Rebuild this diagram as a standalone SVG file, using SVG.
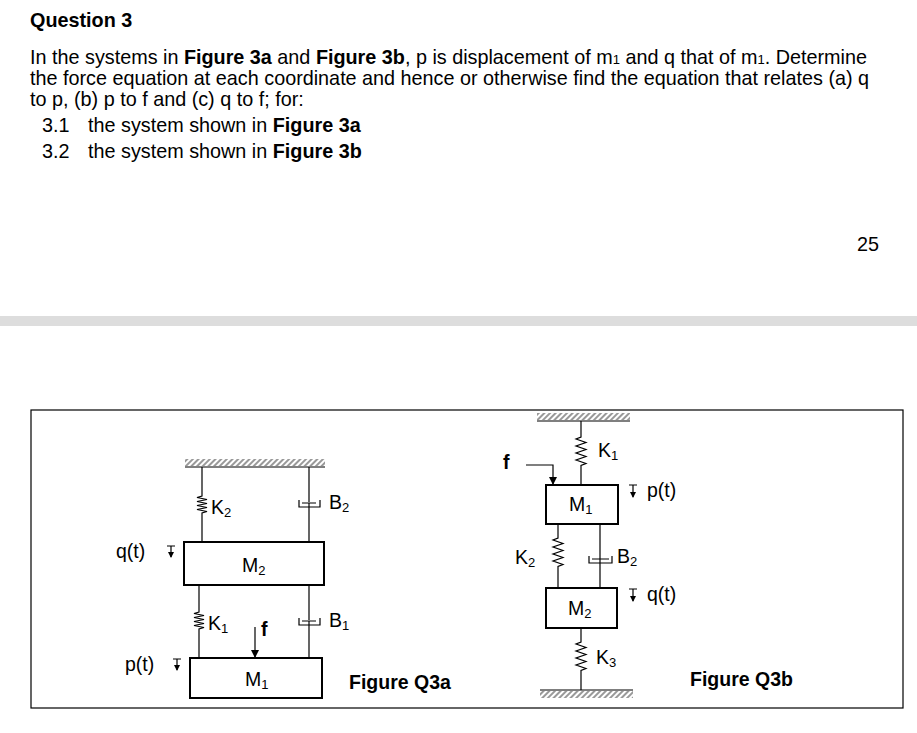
<svg xmlns="http://www.w3.org/2000/svg" width="917" height="733" viewBox="0 0 917 733">
<defs>
<pattern id="h" width="4" height="4" patternUnits="userSpaceOnUse" patternTransform="rotate(45)"><rect width="2" height="4" fill="#999"/></pattern>
<marker id="a" markerWidth="8" markerHeight="8" refX="7" refY="4" orient="auto" markerUnits="userSpaceOnUse"><path d="M0,0 L8,4 L0,8 z" fill="#000"/></marker>
<marker id="s" markerWidth="6" markerHeight="6" refX="5" refY="3" orient="auto" markerUnits="userSpaceOnUse"><path d="M0,0 L6,3 L0,6 z" fill="#000"/></marker>
</defs>
<style>
text{font-family:"Liberation Sans",Arial,sans-serif;fill:#000}
.t{font-size:19.8px}
.l{font-size:19.5px}
.b{font-weight:bold}
.s{font-size:13px}
.ln{stroke:#000;stroke-width:1.2;fill:none}
.box{fill:#fff;stroke:#000;stroke-width:2}
.sp{stroke:#000;stroke-width:1.2;fill:none}
</style>
<rect width="917" height="733" fill="#fff"/>
<text x="30" y="27" class="t b">Question 3</text>
<text x="30" y="64" class="t">In the systems in <tspan class="b">Figure 3a</tspan> and <tspan class="b">Figure 3b</tspan>, p is displacement of m<tspan class="s">1</tspan> and q that of m<tspan class="s">1</tspan>. Determine</text>
<text x="30" y="85" class="t">the force equation at each coordinate and hence or otherwise find the equation that relates (a) q</text>
<text x="30" y="106" class="t">to p, (b) p to f and (c) q to f; for:</text>
<text x="42" y="132" class="t">3.1</text><text x="88" y="132" class="t">the system shown in <tspan class="b">Figure 3a</tspan></text>
<text x="42" y="158" class="t">3.2</text><text x="88" y="158" class="t">the system shown in <tspan class="b">Figure 3b</tspan></text>
<text x="857" y="251" class="t">25</text>
<rect x="0" y="316" width="917" height="10" fill="#ddd"/>
<rect x="31" y="410" width="872" height="298" fill="none" stroke="#000" stroke-width="1.2"/>

<g id="fig3a">
<rect x="185" y="459" width="140" height="7" fill="url(#h)"/>
<line x1="185" y1="467" x2="325" y2="467" class="ln" stroke-width="2"/>
<g id="K2a"><path class="sp" d="M202,467 V496 l-5,1.5 l10,2 l-10,2 l10,2 l-10,2 l10,2 l-10,2 l10,2 l-5,1.5 V542"/><text x="211" y="514" class="l">K<tspan class="s" dy="3">2</tspan></text></g>
<g id="B2a"><path class="ln" d="M309,467 V502 M299,500 V507 H320 V500 M302,503 H316 M309,503 V542"/><text x="329" y="509" class="l">B<tspan class="s" dy="3">2</tspan></text></g>
<g id="M2a"><rect class="box" x="184" y="542" width="140" height="43"/><text x="242" y="572" class="l">M<tspan class="s" dy="3">2</tspan></text></g>
<g id="K1a"><path class="sp" d="M199,585 V612 l-5,1.5 l10,2 l-10,2 l10,2 l-10,2 l10,2 l-10,2 l10,2 l-5,1.5 V658"/><text x="208" y="630" class="l">K<tspan class="s" dy="3">1</tspan></text></g>
<g id="B1a"><path class="ln" d="M309,585 V620 M299,618 V625 H320 V618 M302,621 H316 M309,621 V658"/><text x="329" y="627" class="l">B<tspan class="s" dy="3">1</tspan></text></g>
<g id="M1a"><rect class="box" x="190" y="658" width="132" height="40"/><text x="245" y="686" class="l">M<tspan class="s" dy="3">1</tspan></text></g>
<g id="fa"><line class="ln" x1="255" y1="627" x2="255" y2="657" stroke-width="2" marker-end="url(#a)"/><text x="261" y="636" class="l b">f</text></g>
<g id="qa"><text x="116" y="558" class="l">q(t)</text><path class="ln" d="M167,546 H175 M171,546 V557" marker-end="url(#s)"/></g>
<g id="pa"><text x="125" y="671" class="l">p(t)</text><path class="ln" d="M173,659 H181 M177,659 V670" marker-end="url(#s)"/></g>
<text x="349" y="689" class="l b">Figure Q3a</text>
</g>

<g id="fig3b">
<rect x="537" y="413" width="93" height="7" fill="url(#h)"/>
<line x1="537" y1="421" x2="630" y2="421" class="ln" stroke-width="2"/>
<g id="K1b"><path class="sp" d="M581,421 V437 l-5,2 l10,3.5 l-10,3.5 l10,3.5 l-10,3.5 l10,3.5 l-10,3.5 l10,3.5 l-5,2 V485"/><text x="598" y="457" class="l">K<tspan class="s" dy="3">1</tspan></text></g>
<g id="fb"><text x="503" y="469" class="l b">f</text><path class="ln" d="M526,465 H553 V484" stroke-width="1.5" marker-end="url(#a)"/></g>
<g id="M1b"><rect class="box" x="546" y="485" width="72" height="39"/><text x="569" y="511" class="l">M<tspan class="s" dy="3">1</tspan></text></g>
<g id="pb"><text x="647" y="497" class="l">p(t)</text><path class="ln" d="M629,485 H637 M633,485 V497" marker-end="url(#s)"/></g>
<g id="K2b"><path class="sp" d="M558,524 V538 l-5,2 l10,3.5 l-10,3.5 l10,3.5 l-10,3.5 l10,3.5 l-10,3.5 l10,3.5 l-5,2 V588"/><text x="515" y="564" class="l">K<tspan class="s" dy="3">2</tspan></text></g>
<g id="B2b"><path class="ln" d="M600,524 V559 M589,556 V563 H612 V556 M592,559 H609 M600,559 V588"/><text x="617" y="563" class="l">B<tspan class="s" dy="3">2</tspan></text></g>
<g id="M2b"><rect class="box" x="546" y="588" width="71" height="40"/><text x="568" y="615" class="l">M<tspan class="s" dy="3">2</tspan></text></g>
<g id="qb"><text x="647" y="601" class="l">q(t)</text><path class="ln" d="M629,589 H637 M633,589 V601" marker-end="url(#s)"/></g>
<g id="K3b"><path class="sp" d="M581,628 V642 l-5,2 l10,3.5 l-10,3.5 l10,3.5 l-10,3.5 l10,3.5 l-10,3.5 l10,3.5 l-5,2 V690"/><text x="596" y="664" class="l">K<tspan class="s" dy="3">3</tspan></text></g>
<line x1="540" y1="690" x2="633" y2="690" class="ln" stroke-width="2"/>
<rect x="540" y="691" width="93" height="7" fill="url(#h)"/>
<text x="690" y="686" class="l b">Figure Q3b</text>
</g>
</svg>
